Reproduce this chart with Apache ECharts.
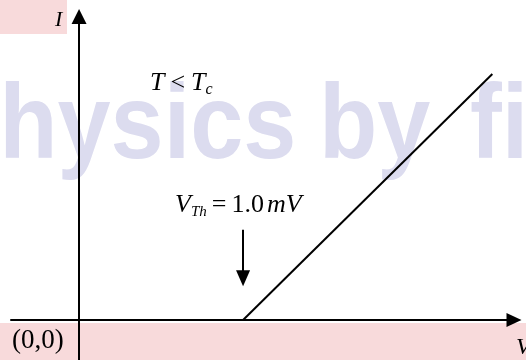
<!DOCTYPE html>
<html>
<head>
<meta charset="utf-8">
<script src="https://cdn.jsdelivr.net/npm/echarts@6/dist/echarts.min.js"></script>
<style>
  html, body { margin: 0; padding: 0; background: #fff; }
  #chart { width: 526px; height: 360px; }
</style>
</head>
<body>
<div id="chart"></div>
<script>
// I–V characteristic below the critical temperature: no current until the
// threshold voltage, then a linear rise.
var voltage = [1.0, 2.52];        // mV
var current = [0, 1.5];           // arbitrary units
var thresholdV = 1.0;             // mV, marked with the down arrow
var arrowFromI = 0.55;
var arrowToI = 0.255;

var serif = '"Liberation Serif", "DejaVu Serif", serif';
var markFont = 'bold 106px "Liberation Sans", Arial, sans-serif';
var markFill = '#dcdcef';

var chart = echarts.init(document.getElementById('chart'), null, { renderer: 'canvas' });

var lineData = voltage.map(function (v, i) { return [v, current[i]]; });

function markWord(word, x) {
  return {
    type: 'text', z: -10, x: x, y: 76, scaleX: 0.9,
    style: { text: word, font: markFont, fill: markFill }
  };
}

chart.setOption({
  animation: false,
  backgroundColor: '#ffffff',
  grid: { left: 11, right: 12, top: 16.5, bottom: 0, containLabel: false },
  xAxis: {
    type: 'value',
    min: -0.415,
    max: 2.652,
    axisLine: {
      onZero: true,
      symbol: ['none', 'triangle'],
      symbolSize: [14, 15],
      lineStyle: { color: '#000', width: 2 }
    },
    axisTick: { show: false },
    axisLabel: { show: false },
    splitLine: { show: false }
  },
  yAxis: {
    type: 'value',
    min: -0.244,
    max: 1.851,
    axisLine: {
      onZero: true,
      symbol: ['none', 'triangle'],
      symbolSize: [15, 15],
      lineStyle: { color: '#000', width: 2 }
    },
    axisTick: { show: false },
    axisLabel: { show: false },
    splitLine: { show: false }
  },
  graphic: [
    // shaded label panels
    { type: 'rect', z: -20, shape: { x: 0, y: 0, width: 67, height: 34 }, style: { fill: '#f8dadb' } },
    { type: 'rect', z: -20, shape: { x: 0, y: 323, width: 526, height: 37 }, style: { fill: '#f8dadb' } },
    // background lettering
    markWord('physics', -59),
    markWord('by', 319),
    markWord('fiziks', 470),
    // axis names and origin
    { type: 'text', z: 10, left: 55, top: 9,
      style: { text: 'I', font: 'italic 22px ' + serif, fill: '#000' } },
    { type: 'text', z: 10, left: 12, top: 327,
      style: { text: '(0,0)', font: '27px ' + serif, fill: '#000' } },
    { type: 'text', z: 10, left: 516, top: 336,
      style: { text: 'V', font: 'italic 24px ' + serif, fill: '#000' } },
    // condition label
    { type: 'text', z: 10, left: 150, top: 70,
      style: {
        text: '{i|T}{n|<}{i|T}{s|c}',
        rich: {
          i: { font: 'italic 26px ' + serif, fill: '#000' },
          n: { font: '26px ' + serif, fill: '#000', padding: [0, 6, 0, 6] },
          s: { font: 'italic 16px ' + serif, fill: '#000', padding: [14, 0, 0, 0] }
        }
      }
    },
    // threshold label
    { type: 'text', z: 10, left: 175, top: 192,
      style: {
        text: '{i|V}{s|Th}{n|=}{n2|1.0}{i|m}{i|V}',
        rich: {
          i: { font: 'italic 26px ' + serif, fill: '#000' },
          n: { font: '26px ' + serif, fill: '#000', padding: [0, 5, 0, 5] },
          n2: { font: '26px ' + serif, fill: '#000', padding: [0, 3, 0, 0] },
          s: { font: 'italic 15px ' + serif, fill: '#000', padding: [14, 0, 0, 0] }
        }
      }
    }
  ],
  series: [
    {
      type: 'line',
      data: lineData,
      symbol: 'none',
      lineStyle: { color: '#000', width: 2 },
      z: 5,
      markLine: {
        silent: true,
        symbol: ['none', 'triangle'],
        symbolSize: [14, 16],
        label: { show: false },
        lineStyle: { color: '#000', width: 2, type: 'solid' },
        data: [[{ coord: [thresholdV, arrowFromI] }, { coord: [thresholdV, arrowToI] }]]
      }
    }
  ]
});
</script>
</body>
</html>
